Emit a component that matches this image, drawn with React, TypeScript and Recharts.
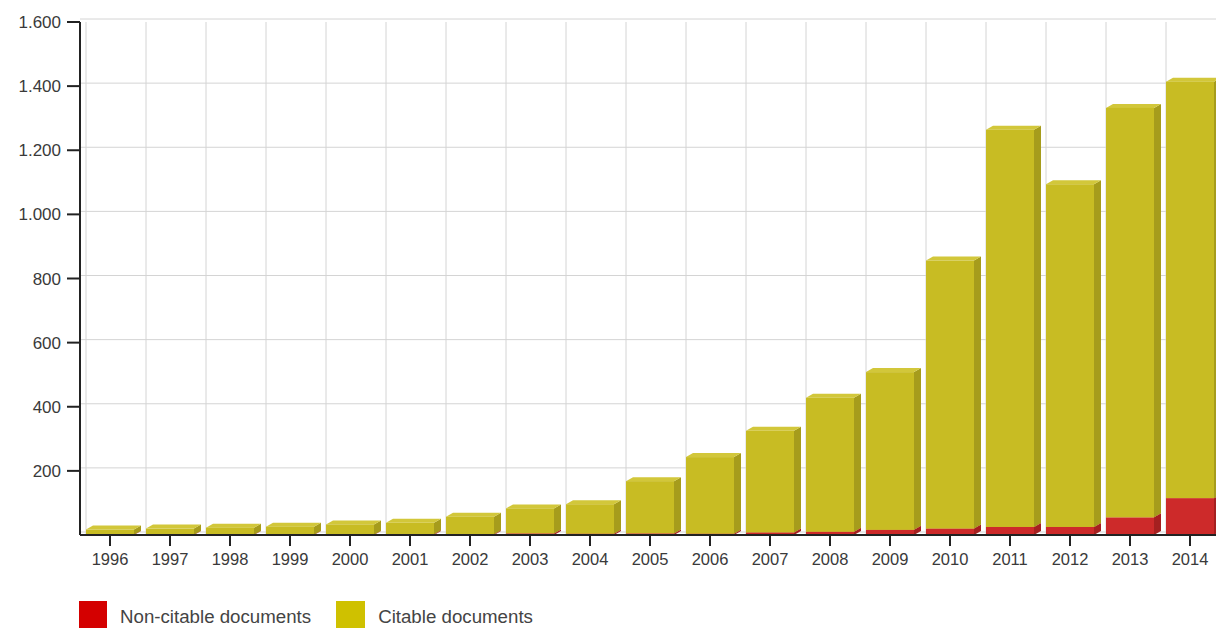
import { BarChart, Bar, XAxis, YAxis, CartesianGrid } from "recharts"

// Documents per year
const years = [
  "1996", "1997", "1998", "1999", "2000", "2001", "2002", "2003", "2004", "2005",
  "2006", "2007", "2008", "2009", "2010", "2011", "2012", "2013", "2014",
]
const nonCitable = [1, 1, 1, 1, 1, 2, 2, 5, 4, 5, 4, 8, 10, 16, 20, 25, 25, 55, 115]
const citable = [16, 19, 22, 25, 32, 36, 55, 78, 92, 163, 239, 317, 418, 492, 836, 1239, 1069, 1277, 1299]
const yTicks = [200, 400, 600, 800, 1000, 1200, 1400, 1600]
const gridValues = [0, 200, 400, 600, 800, 1000, 1200, 1400, 1600]

const data = years.map((year, i) => ({ year, nonCitable: nonCitable[i], citable: citable[i] }))

const FONT = "'Liberation Sans', Arial, sans-serif"
const DX = 7
const DY = 4
const Y_MAX = 1600

const fmt = (v: number) => String(v).replace(/\B(?=(\d{3})+(?!\d))/g, ".")

function Box3D(props: any) {
  const { x, y, width, height, front, side, top } = props
  if (!height || height <= 0) return null
  const r = x + width
  const b = y + height
  return (
    <g>
      <polygon points={`${r},${y} ${r + DX},${y - DY} ${r + DX},${b - DY} ${r},${b}`} fill={side} />
      <polygon points={`${x},${y} ${x + DX},${y - DY} ${r + DX},${y - DY} ${r},${y}`} fill={top} />
      <rect x={x} y={y} width={width} height={height} fill={front} />
    </g>
  )
}

export default function App() {
  return (
    <div style={{ position: "absolute", left: 0, top: 0, width: 1216, height: 628, overflow: "hidden", background: "#fff" }}>
      <BarChart
        width={1240}
        height={628}
        data={data}
        margin={{ top: 22, right: 20, bottom: 53, left: 0 }}
        barSize={48}
      >
        <CartesianGrid
          stroke="#d4d4d4"
          horizontalCoordinatesGenerator={({ offset }: any) =>
            gridValues.map((v) => offset.top + offset.height * (1 - v / Y_MAX) - DY + 1)
          }
          verticalCoordinatesGenerator={({ offset }: any) =>
            [...years, ""].map((_, i) => offset.left + (i * offset.width) / years.length + DX - 1)
          }
        />
        <XAxis
          dataKey="year"
          height={40}
          interval={0}
          axisLine={{ stroke: "#222", strokeWidth: 2 }}
          tickLine={{ stroke: "#222", strokeWidth: 2 }}
          tickSize={11}
          tickMargin={7}
          tick={{ fill: "#3a3a3a", fontSize: 16.5, fontFamily: FONT }}
        />
        <YAxis
          width={80}
          domain={[0, Y_MAX]}
          ticks={yTicks}
          tickFormatter={fmt}
          axisLine={{ stroke: "#222", strokeWidth: 2 }}
          tickLine={{ stroke: "#222", strokeWidth: 2 }}
          tickSize={13}
          tickMargin={6}
          tick={{ fill: "#3a3a3a", fontSize: 17, fontFamily: FONT }}
        />
        <Bar
          dataKey="nonCitable"
          stackId="docs"
          isAnimationActive={false}
          shape={(p: any) => <Box3D {...p} front="#cd2a2a" side="#a52020" top="#d84444" />}
        />
        <Bar
          dataKey="citable"
          stackId="docs"
          isAnimationActive={false}
          shape={(p: any) => <Box3D {...p} front="#c8bc23" side="#a69c1c" top="#d2c73a" />}
        />
      </BarChart>
      <div
        style={{
          position: "absolute",
          left: 79,
          top: 601,
          display: "flex",
          alignItems: "center",
          fontFamily: FONT,
          fontSize: 18.7,
          color: "#444",
        }}
      >
        <span style={{ width: 28, height: 28, background: "#d40000", display: "inline-block" }} />
        <span style={{ marginLeft: 13, marginRight: 25, paddingTop: 4 }}>Non-citable documents</span>
        <span style={{ width: 29, height: 28, background: "#cfc100", display: "inline-block" }} />
        <span style={{ marginLeft: 13, paddingTop: 4 }}>Citable documents</span>
      </div>
    </div>
  )
}
